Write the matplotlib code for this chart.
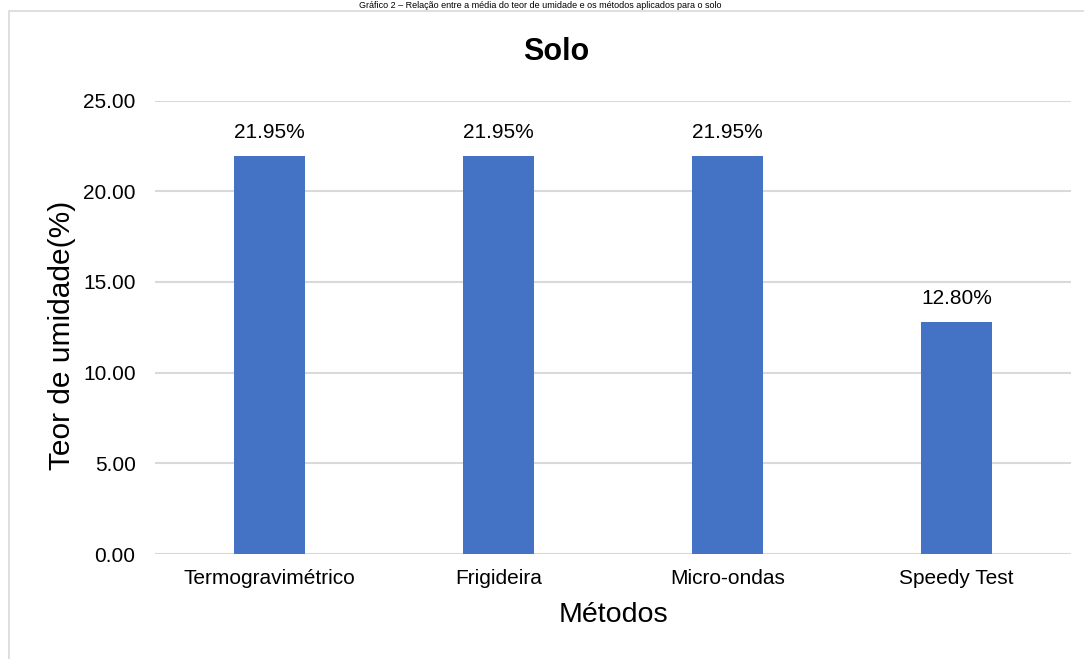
import matplotlib.pyplot as plt
from matplotlib.patches import Rectangle

metodos = ["Termogravimétrico", "Frigideira", "Micro-ondas", "Speedy Test"]
teor = [21.95, 21.95, 21.95, 12.80]
rotulos = ["21.95%", "21.95%", "21.95%", "12.80%"]
yticks = [0, 5, 10, 15, 20, 25]

plt.rcParams['font.family'] = ['Liberation Sans', 'DejaVu Sans']

W, H = 1084, 659
fig = plt.figure(figsize=(W / 100, H / 100), dpi=100)
fig.patch.set_facecolor("white")

# moldura do grafico (cortada a direita e em baixo)
fig.patches.append(Rectangle((8.5 / W, -0.05), 1.2, 1 - 10.5 / H + 0.05,
                             transform=fig.transFigure, fill=False,
                             edgecolor="#d9d9d9", linewidth=1.2))

# legenda do documento, na faixa estreita acima da moldura
fig.text(540 / W, 1 - 7.5 / H,
         "Gráfico 2 – Relação entre a média do teor de umidade e os métodos aplicados para o solo",
         ha="center", va="baseline", fontsize=6.5, color="black")

ax = fig.add_axes([155 / W, 1 - 554 / H, (1071 - 155) / W, (554 - 100.5) / H])
x = range(len(metodos))
bars = ax.bar(x, teor, width=0.314, color="#4472C4", zorder=3)
for b, lab in zip(bars, rotulos):
    ax.annotate(lab, (b.get_x() + b.get_width() / 2, b.get_height()),
                xytext=(0, 17), textcoords="offset points",
                ha="center", va="center", fontsize=15)

ax.set_xlim(-0.5, len(metodos) - 0.5)
ax.set_ylim(0, 25)
ax.set_yticks(yticks)
ax.set_yticklabels([f"{v:.2f}" for v in yticks], fontsize=15)
ax.set_xticks(list(x))
ax.set_xticklabels(metodos, fontsize=15)
ax.tick_params(axis="both", length=0)
ax.tick_params(axis="y", pad=14)
ax.tick_params(axis="x", pad=11)
ax.grid(axis="y", color="#d9d9d9", linewidth=1.5, zorder=0)
for s in ax.spines.values():
    s.set_visible(False)

fig.text(556 / W, 1 - 52 / H, "Solo", ha="center", va="center",
         fontsize=22, fontweight="bold")
fig.text(62 / W, 1 - 335 / H, "Teor de umidade(%)", ha="center", va="center",
         rotation=90, fontsize=21.5)
fig.text(613 / W, 1 - 615 / H, "Métodos", ha="center", va="center", fontsize=20.5)

fig.savefig("out.png", dpi=100)
